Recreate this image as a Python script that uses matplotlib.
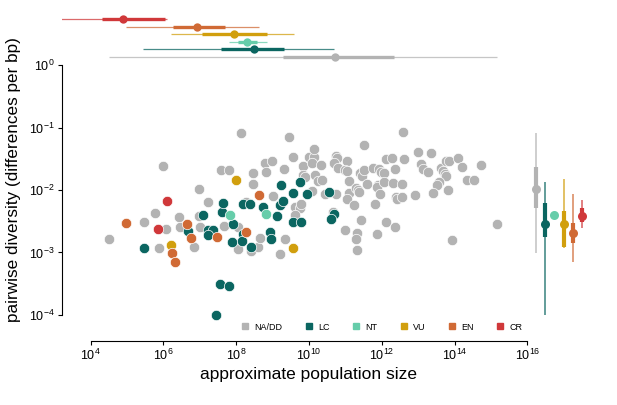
import matplotlib
matplotlib.use('Agg')
import matplotlib.pyplot as plt
from matplotlib.lines import Line2D
from matplotlib.ticker import NullLocator
import numpy as np

plt.rcParams['font.family'] = ['Liberation Sans', 'DejaVu Sans']
plt.rcParams['mathtext.fontset'] = 'custom'
plt.rcParams['mathtext.rm'] = 'Liberation Sans'
plt.rcParams['mathtext.it'] = 'Liberation Sans:italic'
plt.rcParams['mathtext.bf'] = 'Liberation Sans:bold'

categories = ['NA/DD', 'LC', 'NT', 'VU', 'EN', 'CR']
cat_colors = ['#b3b3b3', '#0b6661', '#66cdaa', '#d19f0e', '#d06a35', '#d0383a']

# log10(population size), log10(pairwise diversity)
nadd_x = [4.51, 5.47, 5.77, 5.88, 5.99, 6.07, 6.43, 6.46, 6.84, 6.98,
          6.98, 7.01, 7.23, 7.59, 7.80, 7.67, 8.05, 8.05, 8.13, 8.27,
          8.41, 8.60, 8.46, 8.46, 8.66, 8.79, 8.99, 8.82, 9.01, 9.21,
          9.32, 9.34, 9.45, 9.56, 9.62, 9.76, 9.78, 9.62, 9.84, 9.84,
          9.89, 10.00, 10.14, 10.14, 10.09, 10.33, 10.17, 10.25, 10.36, 10.09,
          10.44, 10.74, 10.66, 10.74, 10.77, 10.69, 10.80, 11.05, 10.99, 11.05,
          11.10, 11.10, 11.05, 11.24, 11.29, 11.35, 11.38, 11.43, 10.99, 11.32,
          11.29, 11.32, 11.40, 11.46, 11.51, 11.51, 11.60, 11.76, 11.90, 11.87,
          11.93, 11.98, 12.06, 11.95, 11.82, 11.87, 12.12, 12.06, 12.12, 12.28,
          12.31, 12.37, 12.37, 12.39, 12.42, 12.56, 12.56, 12.59, 12.61, 12.91,
          13.00, 13.35, 13.08, 13.13, 13.27, 13.63, 13.68, 13.74, 13.77, 13.85,
          14.10, 14.21, 14.73, 14.34, 14.54, 13.77, 13.57, 13.52, 13.82, 13.41,
          15.17, 13.93]
nadd_y = [-2.78, -2.51, -2.37, -2.93, -1.62, -2.62, -2.43, -2.59, -2.91, -1.98,
          -2.42, -2.59, -2.19, -1.68, -1.68, -2.58, -2.59, -2.94, -1.09, -2.19,
          -2.98, -2.91, -1.73, -1.90, -2.77, -1.57, -1.54, -1.71, -2.10, -3.02,
          -1.66, -2.78, -1.15, -1.47, -2.27, -2.29, -2.22, -2.40, -1.62, -1.76,
          -1.79, -1.47, -1.47, -1.34, -1.57, -1.60, -1.76, -1.86, -1.84, -2.02,
          -2.06, -2.06, -2.35, -1.46, -1.49, -1.57, -1.65, -1.54, -1.68, -1.70,
          -1.86, -2.05, -2.14, -2.24, -1.97, -2.00, -2.03, -2.48, -2.64, -2.69,
          -2.78, -2.96, -1.73, -1.78, -1.68, -1.28, -1.90, -1.65, -1.92, -1.95,
          -1.66, -1.71, -1.73, -2.06, -2.22, -2.70, -2.51, -1.87, -1.50, -1.49,
          -1.89, -1.66, -2.59, -2.11, -2.14, -2.11, -1.90, -1.07, -1.50, -2.08,
          -1.39, -1.41, -1.58, -1.66, -1.71, -1.65, -1.70, -1.74, -1.54, -1.54,
          -1.49, -1.63, -1.60, -1.84, -1.84, -1.78, -1.87, -1.92, -2.00, -2.05,
          -2.54, -2.80]
lc_x = [5.47, 6.68, 7.09, 7.23, 7.37, 7.23, 7.61, 7.64, 7.89, 7.91,
        8.19, 8.16, 8.19, 8.38, 8.41, 8.74, 8.93, 8.96, 9.12, 9.23,
        9.21, 9.29, 9.56, 9.76, 9.95, 9.56, 9.78, 10.55, 10.69, 10.61,
        7.56, 7.80, 7.45]
lc_y = [-2.93, -2.66, -2.40, -2.64, -2.64, -2.72, -2.35, -2.21, -2.83, -2.54,
        -2.70, -2.82, -2.22, -2.22, -2.91, -2.27, -2.67, -2.78, -2.42, -1.92,
        -2.24, -2.18, -2.05, -1.87, -2.06, -2.51, -2.51, -2.03, -2.38, -2.46,
        -3.50, -3.54, -4.00]
nt_x = [7.83, 8.82]
nt_y = [-2.40, -2.38]
vu_x = [6.21, 8.00, 9.56]
vu_y = [-2.88, -1.84, -2.93]
en_x = [4.98, 6.24, 6.32, 6.65, 6.76, 7.48, 8.27, 8.63]
en_y = [-2.53, -3.01, -3.15, -2.54, -2.77, -2.75, -2.67, -2.08]
cr_x = [6.10, 5.85]
cr_y = [-2.18, -2.62]

# marginal summaries (log10): range low, quartile low, mean, quartile high, range high
top_lo   = [4.51, 5.44, 7.80, 6.21, 4.98, 2.75]
top_q1   = [9.29, 7.59, 8.05, 7.06, 6.27, 4.32]
top_mean = [10.72, 8.49, 8.30, 7.94, 6.93, 4.89]
top_q3   = [12.34, 9.32, 8.57, 8.85, 7.70, 6.05]
top_hi   = [15.17, 10.69, 8.85, 9.59, 8.63, 6.10]

right_lo   = [-3.01, -4.00, -2.40, -2.93, -3.15, -2.61]
right_q1   = [-2.29, -2.75, -2.40, -2.91, -2.85, -2.51]
right_mean = [-1.98, -2.54, -2.40, -2.54, -2.69, -2.42]
right_q3   = [-1.63, -2.21, -2.38, -2.34, -2.53, -2.29]
right_hi   = [-1.09, -1.87, -2.38, -1.82, -2.06, -2.16]

xticks_exp = [4, 6, 8, 10, 12, 14, 16]
yticks_exp = [0, -1, -2, -3, -4]

series_x = [nadd_x, lc_x, nt_x, vu_x, en_x, cr_x]
series_y = [nadd_y, lc_y, nt_y, vu_y, en_y, cr_y]

W, H = 617, 405
fig = plt.figure(figsize=(W / 100, H / 100), dpi=100)


def rect(l, t, r, b):
    return [l / W, 1 - b / H, (r - l) / W, (b - t) / H]


ax = fig.add_axes(rect(62, 60, 535, 341))
ax.set_xscale('log')
ax.set_yscale('log')
ax.set_xlim(10 ** 3.217, 10 ** 16.21)
ax.set_ylim(10 ** -4.416, 10 ** 0.08)
axt = fig.add_axes(rect(62, 10, 535, 62), sharex=ax)
axr = fig.add_axes(rect(525, 60, 600, 341), sharey=ax)

for i, cat in enumerate(categories):
    ax.scatter(10.0 ** np.array(series_x[i]), 10.0 ** np.array(series_y[i]),
               s=56, c=cat_colors[i], edgecolors='white', linewidths=0.5,
               zorder=3 + i)

ax.set_xticks([10.0 ** e for e in xticks_exp])
ax.set_yticks([10.0 ** e for e in yticks_exp])
ax.xaxis.set_minor_locator(NullLocator())
ax.yaxis.set_minor_locator(NullLocator())
ax.tick_params(axis='both', which='major', labelsize=9, length=2.6, width=0.8,
               pad=2.5, direction='out')
for s in ['top', 'right']:
    ax.spines[s].set_visible(False)
ax.spines['left'].set_bounds(10.0 ** min(yticks_exp), 10.0 ** max(yticks_exp))
ax.spines['bottom'].set_bounds(10.0 ** min(xticks_exp), 10.0 ** max(xticks_exp))
ax.spines['left'].set_linewidth(0.8)
ax.spines['bottom'].set_linewidth(0.8)
ax.patch.set_visible(False)

ax.set_xlabel('approximate population size', fontsize=12.5)
ax.set_ylabel('pairwise diversity (differences per bp)', fontsize=12.3)
ax.xaxis.label.set_va('center')
ax.yaxis.label.set_va('center')
ax.xaxis.set_label_coords((308 - 62) / 473, -(375 - 341) / 281)
ax.yaxis.set_label_coords((14 - 62) / 473, (341 - 180) / 281)

# top marginal
axt.axis('off')
axt.patch.set_visible(False)
axt.set_ylim(5.66, -1.18)
for i, cat in enumerate(categories):
    yy = 5 - i
    c = cat_colors[i]
    axt.plot([10 ** top_lo[i], 10 ** top_hi[i]], [yy, yy], color=c, lw=0.9,
             alpha=0.75, solid_capstyle='butt')
    axt.plot([10 ** top_q1[i], 10 ** top_q3[i]], [yy, yy], color=c, lw=2.4,
             solid_capstyle='butt')
    axt.plot([10 ** top_mean[i]], [yy], 'o', color=c, ms=6, mew=0)

# right marginal
axr.axis('off')
axr.patch.set_visible(False)
axr.set_xlim(-1.196, 6.96)
for i, cat in enumerate(categories):
    c = cat_colors[i]
    axr.plot([i, i], [10 ** right_lo[i], 10 ** right_hi[i]], color=c, lw=1.2,
             alpha=0.75, solid_capstyle='butt')
    axr.plot([i, i], [10 ** right_q1[i], 10 ** right_q3[i]], color=c, lw=3.0,
             solid_capstyle='butt')
    axr.plot([i], [10 ** right_mean[i]], 'o', color=c, ms=6.5, mew=0)

handles = [Line2D([], [], marker='s', ls='', color=cat_colors[i], markersize=4,
                  label=cat) for i, cat in enumerate(categories)]
ax.legend(handles=handles, ncol=6, loc='center', frameon=False, fontsize=6.5,
          bbox_to_anchor=(382 / W, 1 - 327 / H), bbox_transform=fig.transFigure,
          handlelength=0.8, handletextpad=0.6, columnspacing=2.55, borderpad=0,
          borderaxespad=0)

fig.savefig('out.png', dpi=100)
